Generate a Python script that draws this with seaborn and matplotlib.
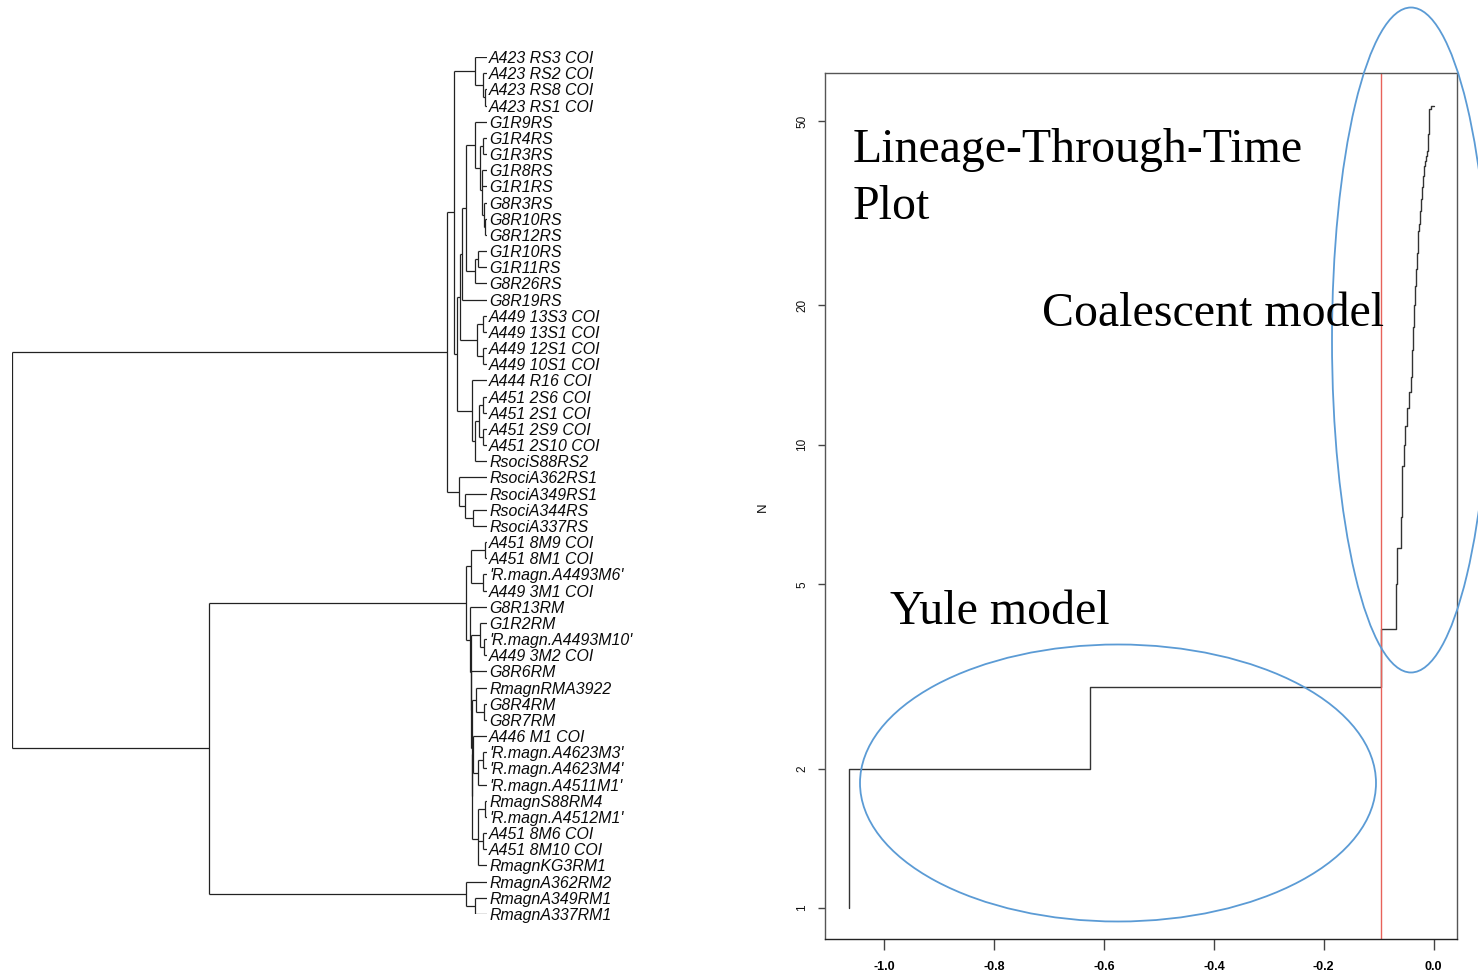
import numpy as np
import pandas as pd
import matplotlib
matplotlib.use("Agg")
import matplotlib.pyplot as plt
import seaborn as sns
from matplotlib.patches import Ellipse

# ---------------- data ----------------
tip_labels = [
    "A423 RS3 COI", "A423 RS2 COI", "A423 RS8 COI", "A423 RS1 COI",
    "G1R9RS", "G1R4RS", "G1R3RS", "G1R8RS", "G1R1RS", "G8R3RS",
    "G8R10RS", "G8R12RS", "G1R10RS", "G1R11RS", "G8R26RS", "G8R19RS",
    "A449 13S3 COI", "A449 13S1 COI", "A449 12S1 COI", "A449 10S1 COI",
    "A444 R16 COI", "A451 2S6 COI", "A451 2S1 COI", "A451 2S9 COI",
    "A451 2S10 COI", "RsociS88RS2", "RsociA362RS1", "RsociA349RS1",
    "RsociA344RS", "RsociA337RS", "A451 8M9 COI", "A451 8M1 COI",
    "'R.magn.A4493M6'", "A449 3M1 COI", "G8R13RM", "G1R2RM",
    "'R.magn.A4493M10'", "A449 3M2 COI", "G8R6RM", "RmagnRMA3922",
    "G8R4RM", "G8R7RM", "A446 M1 COI", "'R.magn.A4623M3'",
    "'R.magn.A4623M4'", "'R.magn.A4511M1'", "RmagnS88RM4", "'R.magn.A4512M1'",
    "A451 8M6 COI", "A451 8M10 COI", "RmagnKG3RM1", "RmagnA362RM2",
    "RmagnA349RM1", "RmagnA337RM1",
]

# clades as (first tip, last tip, node age before present)
tree_clades = [
    (1, 54, 1.065),
    (1, 30, 0.090), (1, 26, 0.074), (1, 4, 0.027), (2, 4, 0.009), (3, 4, 0.0056),
    (5, 26, 0.067), (5, 20, 0.0605), (5, 16, 0.056),
    (5, 15, 0.047), (5, 12, 0.027), (6, 12, 0.0157), (6, 7, 0.0085),
    (8, 12, 0.012), (10, 12, 0.0078), (11, 12, 0.0045),
    (13, 15, 0.027), (13, 14, 0.020),
    (17, 20, 0.023), (17, 18, 0.0096), (19, 20, 0.0096),
    (21, 26, 0.034), (22, 26, 0.027), (22, 25, 0.018), (22, 23, 0.009), (24, 25, 0.009),
    (27, 30, 0.063), (28, 30, 0.049), (29, 30, 0.031),
    (31, 54, 0.623), (31, 51, 0.047), (31, 34, 0.036), (31, 32, 0.0045), (33, 34, 0.0083),
    (35, 51, 0.038), (36, 51, 0.0365), (39, 51, 0.0355), (40, 51, 0.0345), (43, 51, 0.0335),
    (36, 38, 0.0157), (37, 38, 0.0067),
    (40, 42, 0.025), (41, 42, 0.0067),
    (43, 46, 0.031), (44, 46, 0.020), (44, 45, 0.0083),
    (47, 51, 0.020), (47, 48, 0.0045), (49, 50, 0.0083),
    (52, 54, 0.047), (53, 54, 0.027),
]

# Lineage-through-time: branching times (N increases by one at each)
ltt_root_time = -1.065
ltt_branch_times = [
    -1.065, -0.6255, -0.0955, -0.0685, -0.0673, -0.0600, -0.0582, -0.0567,
    -0.0540, -0.0522, -0.0485, -0.0449, -0.0413, -0.0395, -0.0385, -0.0378,
    -0.0370, -0.0364, -0.0358, -0.0345, -0.0335, -0.0325, -0.0315, -0.0305,
    -0.0298, -0.0290, -0.0282, -0.0275, -0.0265, -0.0255, -0.0245, -0.0235,
    -0.0226, -0.0215, -0.0205, -0.0195, -0.0188, -0.0182, -0.0176, -0.0160,
    -0.0140, -0.0120, -0.0104, -0.0100, -0.0097, -0.0094, -0.0091, -0.0088,
    -0.0085, -0.0082, -0.0079, -0.0075, -0.0042,
]
ltt_end_time = 0.0
marker_time = -0.0955

x_ticks = [-1.0, -0.8, -0.6, -0.4, -0.2, 0.0]
x_tick_labels = ["-1.0", "-0.8", "-0.6", "-0.4", "-0.2", "0.0"]
y_ticks = [1, 2, 5, 10, 20, 50]
y_tick_labels = ["1", "2", "5", "10", "20", "50"]
y_label = "N"
annot_texts = ["Lineage-Through-Time", "Plot", "Coalescent model", "Yule model"]

# ---------------- style ----------------
sns.set_theme(style="white")
plt.rcParams["font.family"] = ["Liberation Sans", "DejaVu Sans"]
plt.rcParams["axes.unicode_minus"] = False
plt.rcParams["text.color"] = "black"

W, H = 1478, 974
fig = plt.figure(figsize=(W / 100, H / 100), dpi=100)
fig.patch.set_facecolor("white")


def rect(l, t, r, b):
    return [l / W, 1 - b / H, (r - l) / W, (b - t) / H]


# ---------------- tree ----------------
ax_tree = fig.add_axes(rect(12, 57, 487, 914))
clade_map = {(s, e): a for s, e, a in tree_clades}
root_key = max(clade_map, key=lambda k: clade_map[k])
root_age = clade_map[root_key]


def children(s, e):
    out, i = [], s
    while i <= e:
        best = None
        for (cs, ce) in clade_map:
            if cs == i and ce <= e and (cs, ce) != (s, e):
                if best is None or ce > best[1]:
                    best = (cs, ce)
        if best:
            out.append(best)
            i = best[1] + 1
        else:
            out.append(i)
            i += 1
    return out


hsegs, vsegs = [], []


def draw(node):
    if isinstance(node, int):
        return float(node)
    x = root_age - clade_map[node]
    ys = []
    for c in children(*node):
        cy = draw(c)
        cx = root_age if isinstance(c, int) else root_age - clade_map[c]
        hsegs.append((cy, x, cx))
        ys.append(cy)
    vsegs.append((x, min(ys), max(ys)))
    return float(np.mean(ys))


draw(root_key)
hs = np.array(hsegs)
vs = np.array(vsegs)
ax_tree.hlines(hs[:, 0], hs[:, 1], hs[:, 2], color="#222222", lw=0.9)
ax_tree.vlines(vs[:, 0], vs[:, 1], vs[:, 2], color="#222222", lw=0.9)
for i, lab in enumerate(tip_labels, start=1):
    ax_tree.annotate(lab, xy=(root_age, i), xytext=(1.5, 0), textcoords="offset points",
                     ha="left", va="center_baseline", fontsize=11.4, style="italic",
                     color="#0a0a0a", annotation_clip=False)
ax_tree.set_xlim(0, root_age)
ax_tree.set_ylim(len(tip_labels), 1)
ax_tree.axis("off")

# ---------------- LTT plot ----------------
ax = fig.add_axes(rect(825, 73, 1457, 939))
ltt_x = [ltt_root_time] + ltt_branch_times + [ltt_end_time]
n_events = len(ltt_branch_times)
ltt_n = [1] + [k + 2 for k in range(n_events)] + [n_events + 1]
df = pd.DataFrame({"time": ltt_x, "N": ltt_n})
sns.lineplot(data=df, x="time", y="N", drawstyle="steps-post", estimator=None,
             sort=False, color="#333333", lw=1.0, ax=ax)
ax.axvline(marker_time, color="#e8625a", lw=1.0)

ax.set_yscale("log")
ax.set_xlim(-1.108, 0.0426)
ax.set_ylim(0.857, 63.5)
ax.set_xticks(x_ticks)
ax.set_xticklabels(x_tick_labels, fontsize=9, fontweight="bold")
ax.set_yticks(y_ticks)
ax.set_yticklabels(y_tick_labels, fontsize=8.5, rotation=90, va="center")
ax.yaxis.set_minor_locator(matplotlib.ticker.NullLocator())
ax.tick_params(axis="x", which="major", length=8, width=1, color="#444444", pad=8,
               bottom=True, labelcolor="#000000")
ax.tick_params(axis="y", which="major", length=5, width=1, color="#444444", pad=7,
               left=True, labelcolor="#111111")
ax.set_xlabel("")
ax.set_ylabel(y_label, fontsize=9.5, color="#111111")
ax.yaxis.set_label_coords(-0.089, 0.499)
for sp in ax.spines.values():
    sp.set_visible(True)
    sp.set_color("#555555")
    sp.set_linewidth(1.0)
ax.spines["bottom"].set_color("#222222")
ax.grid(False)
ax.set_facecolor("white")

# ---------------- overlay annotations ----------------
ov = fig.add_axes([0, 0, 1, 1])
ov.set_xlim(0, W)
ov.set_ylim(H, 0)
ov.axis("off")
ov.patch.set_alpha(0)
serif = ["Liberation Serif", "DejaVu Serif"]
kw = dict(fontsize=34.5, family=serif, ha="left", va="baseline", color="black")
ov.text(853, 162, annot_texts[0], **kw)
ov.text(853, 219, annot_texts[1], **kw)
ov.text(1042, 326, annot_texts[2], **kw)
ov.text(890, 624, annot_texts[3], **kw)
ov.add_patch(Ellipse((1411, 340), 158, 665, fill=False, ec="#5b9bd5", lw=1.3))
ov.add_patch(Ellipse((1118, 783), 516, 277, fill=False, ec="#5b9bd5", lw=1.3))

fig.savefig("out.png", dpi=100, facecolor="white")
